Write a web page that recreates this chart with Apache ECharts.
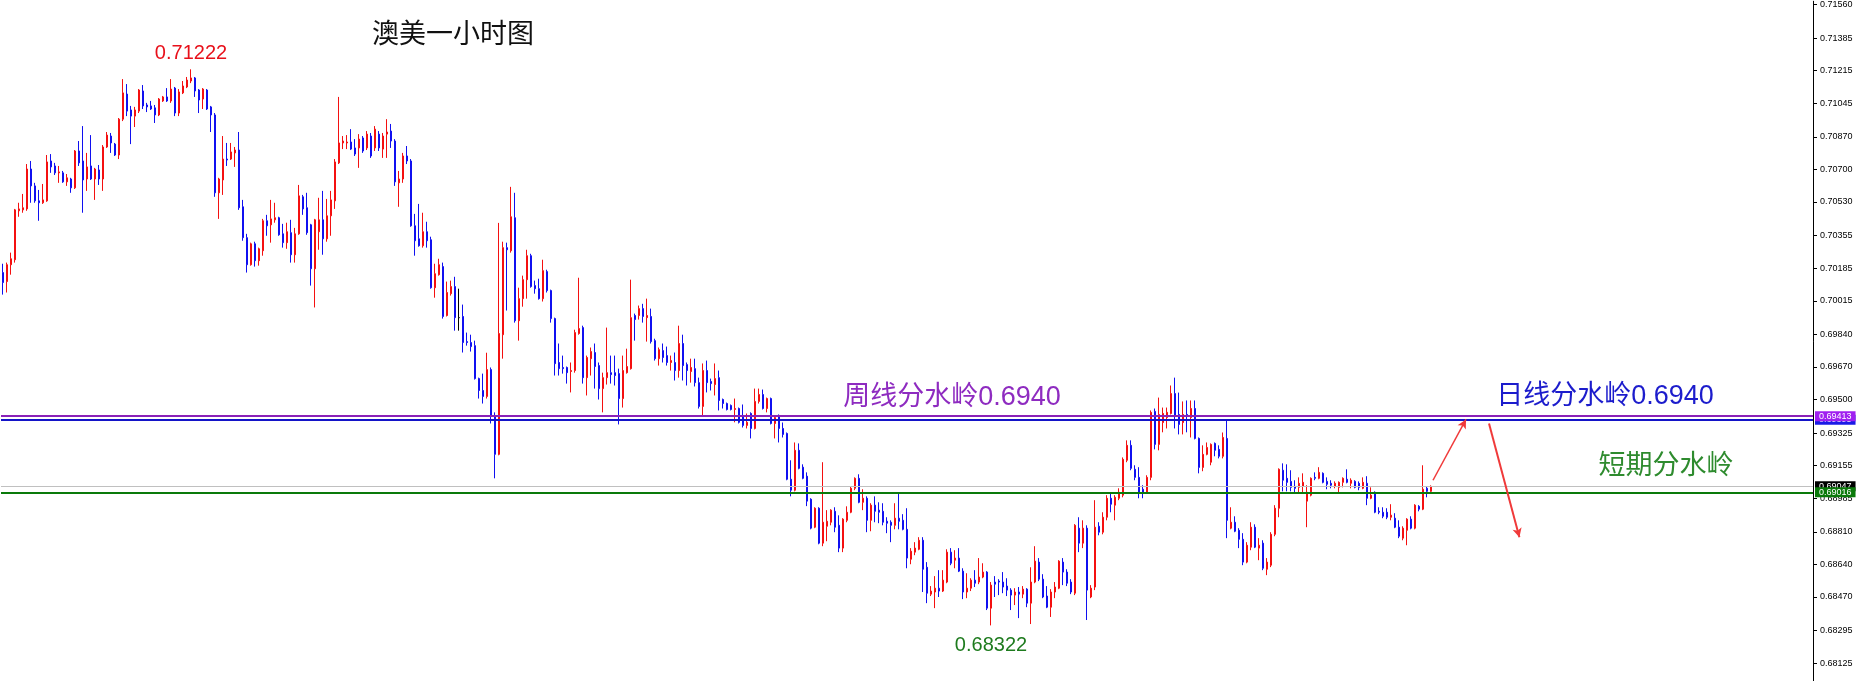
<!DOCTYPE html>
<html><head><meta charset="utf-8">
<script src="https://cdn.jsdelivr.net/npm/echarts@6/dist/echarts.min.js"></script>
<style>html,body{margin:0;padding:0;background:#fff;}#c{width:1861px;height:681px;}</style>
</head><body><div id="c"></div>
<script>
const opens = [
0.70162,0.70115,0.70203,0.70229,0.70484,0.70489,0.70494,0.70702,0.70614,0.70536,
0.70526,0.70536,0.70744,0.70718,0.70682,0.70682,0.70635,0.70650,0.70604,0.70796,
0.70744,0.70650,0.70718,0.70650,0.70697,0.70650,0.70817,0.70874,0.70832,0.70775,
0.70962,0.71093,0.71010,0.70978,0.71004,0.71109,0.71036,0.71031,0.71021,0.70984,
0.71057,0.71078,0.71057,0.71124,0.70994,0.71099,0.71130,0.71161,0.71177,0.71114,
0.71067,0.71114,0.71026,0.70984,0.70578,0.70645,0.70754,0.70754,0.70786,0.70801,
0.70505,0.70344,0.70203,0.70312,0.70224,0.70276,0.70432,0.70411,0.70437,0.70448,
0.70364,0.70318,0.70370,0.70255,0.70364,0.70557,0.70500,0.70411,0.70182,0.70375,
0.70437,0.70338,0.70458,0.70536,0.70734,0.70838,0.70838,0.70843,0.70812,0.70812,
0.70864,0.70812,0.70874,0.70812,0.70884,0.70806,0.70884,0.70900,0.70848,0.70630,
0.70650,0.70770,0.70744,0.70406,0.70338,0.70302,0.70375,0.70333,0.70083,0.70151,
0.70193,0.69938,0.70052,0.70089,0.69927,0.69933,0.69802,0.69797,0.69781,0.69609,
0.69547,0.69516,0.69656,0.69417,0.69214,0.69838,0.70292,0.70276,0.70448,0.69911,
0.70026,0.70125,0.70250,0.70094,0.70078,0.70026,0.70167,0.70068,0.69922,0.69693,
0.69667,0.69667,0.69646,0.69651,0.69844,0.69875,0.69614,0.69713,0.69745,0.69677,
0.69557,0.69614,0.69640,0.69640,0.69635,0.69505,0.69640,0.69661,0.69938,0.69938,
0.69974,0.69927,0.69933,0.69807,0.69713,0.69755,0.69729,0.69693,0.69693,0.69651,
0.69792,0.69682,0.69646,0.69661,0.69588,0.69464,0.69651,0.69594,0.69578,0.69614,
0.69500,0.69479,0.69469,0.69448,0.69453,0.69417,0.69365,0.69427,0.69349,0.69490,
0.69526,0.69453,0.69505,0.69375,0.69417,0.69349,0.69323,0.69084,0.69027,0.69235,
0.69147,0.69100,0.68980,0.68834,0.68933,0.68751,0.68839,0.68860,0.68917,0.68844,
0.68725,0.68870,0.68912,0.69037,0.69089,0.68964,0.68985,0.68870,0.68949,0.68923,
0.68917,0.68865,0.68860,0.68844,0.68881,0.68870,0.68823,0.68667,0.68704,0.68719,
0.68766,0.68625,0.68485,0.68496,0.68516,0.68501,0.68548,0.68704,0.68662,0.68673,
0.68605,0.68496,0.68516,0.68558,0.68548,0.68574,0.68600,0.68412,0.68548,0.68553,
0.68548,0.68527,0.68506,0.68480,0.68496,0.68485,0.68511,0.68438,0.68548,0.68652,
0.68563,0.68475,0.68417,0.68496,0.68516,0.68652,0.68600,0.68548,0.68490,0.68829,
0.68751,0.68829,0.68470,0.68522,0.68839,0.68808,0.68886,0.68985,0.68949,0.68985,
0.69001,0.69183,0.69261,0.69136,0.69094,0.69032,0.69016,0.69094,0.69438,0.69266,
0.69380,0.69406,0.69427,0.69531,0.69422,0.69380,0.69422,0.69406,0.69453,0.69297,
0.69146,0.69214,0.69173,0.69271,0.69240,0.69204,0.69297,0.68829,0.68860,0.68818,
0.68771,0.68652,0.68730,0.68834,0.68725,0.68751,0.68615,0.68636,0.68797,0.68933,
0.69131,0.69089,0.69073,0.69047,0.69042,0.69047,0.68970,0.69001,0.69094,0.69089,
0.69115,0.69073,0.69063,0.69047,0.69042,0.69068,0.69084,0.69063,0.69073,0.69063,
0.69037,0.69063,0.68985,0.69016,0.68917,0.68912,0.68912,0.68886,0.68881,0.68834,
0.68777,0.68818,0.68876,0.68829,0.68943,0.68928,0.69037,0.69021
];
const closes = [
0.70110,0.70203,0.70234,0.70489,0.70494,0.70500,0.70702,0.70614,0.70536,0.70526,
0.70541,0.70739,0.70713,0.70682,0.70687,0.70635,0.70656,0.70604,0.70796,0.70734,
0.70645,0.70713,0.70650,0.70702,0.70650,0.70817,0.70879,0.70838,0.70775,0.70962,
0.71099,0.71004,0.70978,0.71010,0.71114,0.71031,0.71026,0.71015,0.70984,0.71067,
0.71078,0.71057,0.71119,0.70994,0.71104,0.71135,0.71166,0.71177,0.71109,0.71062,
0.71119,0.71015,0.70984,0.70578,0.70650,0.70754,0.70749,0.70791,0.70801,0.70500,
0.70344,0.70203,0.70312,0.70224,0.70286,0.70432,0.70406,0.70442,0.70448,0.70359,
0.70318,0.70375,0.70255,0.70364,0.70562,0.70494,0.70370,0.70182,0.70437,0.70437,
0.70338,0.70458,0.70541,0.70739,0.70838,0.70848,0.70843,0.70806,0.70780,0.70858,
0.70796,0.70884,0.70770,0.70910,0.70812,0.70874,0.70895,0.70848,0.70635,0.70650,
0.70770,0.70744,0.70406,0.70328,0.70302,0.70375,0.70328,0.70083,0.70156,0.70203,
0.69933,0.70058,0.70089,0.69927,0.69927,0.69797,0.69797,0.69776,0.69609,0.69547,
0.69516,0.69656,0.69417,0.69214,0.69844,0.70292,0.70281,0.70453,0.69911,0.70026,
0.70125,0.70250,0.70089,0.70078,0.70026,0.70172,0.70068,0.69922,0.69687,0.69661,
0.69661,0.69640,0.69651,0.69849,0.69870,0.69614,0.69719,0.69750,0.69672,0.69557,
0.69614,0.69640,0.69630,0.69625,0.69505,0.69651,0.69672,0.69927,0.69917,0.69974,
0.69933,0.69938,0.69802,0.69713,0.69760,0.69719,0.69693,0.69703,0.69651,0.69792,
0.69677,0.69651,0.69667,0.69588,0.69464,0.69651,0.69588,0.69583,0.69609,0.69495,
0.69479,0.69448,0.69448,0.69453,0.69381,0.69365,0.69381,0.69349,0.69490,0.69526,
0.69453,0.69505,0.69375,0.69406,0.69349,0.69318,0.69084,0.69027,0.69235,0.69141,
0.69089,0.68970,0.68829,0.68933,0.68751,0.68860,0.68865,0.68923,0.68834,0.68725,
0.68876,0.68912,0.69037,0.69089,0.68964,0.68985,0.68870,0.68949,0.68917,0.68912,
0.68860,0.68855,0.68844,0.68881,0.68865,0.68823,0.68673,0.68709,0.68725,0.68766,
0.68615,0.68490,0.68501,0.68516,0.68501,0.68558,0.68704,0.68646,0.68673,0.68605,
0.68496,0.68516,0.68558,0.68542,0.68574,0.68600,0.68412,0.68532,0.68537,0.68548,
0.68522,0.68506,0.68480,0.68496,0.68485,0.68511,0.68438,0.68548,0.68657,0.68563,
0.68470,0.68417,0.68496,0.68522,0.68657,0.68600,0.68542,0.68496,0.68844,0.68751,
0.68829,0.68506,0.68516,0.68834,0.68808,0.68886,0.68985,0.68954,0.68990,0.69016,
0.69188,0.69261,0.69141,0.69094,0.69016,0.69016,0.69094,0.69433,0.69266,0.69422,
0.69427,0.69433,0.69531,0.69417,0.69370,0.69422,0.69417,0.69453,0.69297,0.69146,
0.69214,0.69250,0.69266,0.69235,0.69204,0.69302,0.68870,0.68860,0.68813,0.68771,
0.68652,0.68740,0.68834,0.68730,0.68740,0.68620,0.68652,0.68797,0.68933,0.69136,
0.69079,0.69068,0.69042,0.69037,0.69063,0.69068,0.69016,0.69089,0.69089,0.69120,
0.69068,0.69058,0.69053,0.69063,0.69068,0.69089,0.69068,0.69079,0.69042,0.69042,
0.69068,0.68985,0.69001,0.68912,0.68912,0.68891,0.68886,0.68897,0.68834,0.68787,
0.68829,0.68876,0.68829,0.68949,0.68928,0.69032,0.69021,0.69047
];
const lows = [
0.70047,0.70058,0.70151,0.70214,0.70453,0.70474,0.70484,0.70526,0.70526,0.70432,
0.70520,0.70531,0.70682,0.70671,0.70630,0.70630,0.70614,0.70578,0.70598,0.70718,
0.70474,0.70588,0.70645,0.70541,0.70619,0.70588,0.70812,0.70786,0.70770,0.70754,
0.70952,0.70978,0.70832,0.70921,0.70994,0.71015,0.70999,0.71010,0.70942,0.70978,
0.71052,0.71052,0.71047,0.70978,0.70978,0.71093,0.71124,0.71150,0.71078,0.70994,
0.71015,0.71010,0.70895,0.70557,0.70442,0.70567,0.70718,0.70749,0.70713,0.70489,
0.70328,0.70162,0.70198,0.70193,0.70198,0.70250,0.70354,0.70318,0.70422,0.70354,
0.70292,0.70286,0.70214,0.70214,0.70359,0.70463,0.70359,0.70094,0.69980,0.70281,
0.70255,0.70323,0.70354,0.70494,0.70728,0.70806,0.70806,0.70801,0.70770,0.70708,
0.70786,0.70801,0.70760,0.70796,0.70796,0.70760,0.70760,0.70812,0.70614,0.70505,
0.70630,0.70728,0.70401,0.70250,0.70297,0.70292,0.70292,0.70078,0.70031,0.70146,
0.69922,0.69933,0.70042,0.69859,0.69859,0.69745,0.69781,0.69750,0.69604,0.69505,
0.69479,0.69505,0.69375,0.69089,0.69209,0.69713,0.69964,0.70266,0.69901,0.69807,
0.69984,0.70026,0.70083,0.70052,0.70021,0.70011,0.70058,0.69901,0.69625,0.69625,
0.69635,0.69583,0.69537,0.69640,0.69838,0.69583,0.69521,0.69625,0.69557,0.69500,
0.69433,0.69578,0.69583,0.69573,0.69370,0.69458,0.69635,0.69656,0.69807,0.69917,
0.69901,0.69802,0.69792,0.69703,0.69677,0.69693,0.69677,0.69651,0.69599,0.69614,
0.69599,0.69573,0.69588,0.69568,0.69453,0.69412,0.69537,0.69547,0.69521,0.69443,
0.69453,0.69443,0.69443,0.69381,0.69375,0.69354,0.69349,0.69297,0.69344,0.69479,
0.69448,0.69433,0.69370,0.69297,0.69276,0.69302,0.69079,0.68995,0.69021,0.69136,
0.69084,0.68944,0.68823,0.68829,0.68745,0.68735,0.68761,0.68844,0.68808,0.68704,
0.68704,0.68860,0.68907,0.69027,0.68959,0.68923,0.68808,0.68813,0.68860,0.68855,
0.68844,0.68803,0.68756,0.68823,0.68823,0.68818,0.68620,0.68641,0.68688,0.68714,
0.68496,0.68438,0.68475,0.68412,0.68470,0.68496,0.68542,0.68636,0.68620,0.68600,
0.68459,0.68464,0.68501,0.68522,0.68537,0.68568,0.68402,0.68322,0.68470,0.68480,
0.68490,0.68475,0.68402,0.68428,0.68360,0.68464,0.68417,0.68329,0.68542,0.68553,
0.68464,0.68412,0.68366,0.68464,0.68511,0.68532,0.68527,0.68485,0.68480,0.68704,
0.68725,0.68350,0.68464,0.68506,0.68792,0.68797,0.68870,0.68912,0.68870,0.68975,
0.68990,0.69173,0.69131,0.69079,0.68985,0.68985,0.69011,0.69079,0.69240,0.69235,
0.69329,0.69349,0.69422,0.69349,0.69318,0.69318,0.69329,0.69302,0.69292,0.69115,
0.69126,0.69209,0.69157,0.69204,0.69193,0.69193,0.68777,0.68823,0.68808,0.68725,
0.68636,0.68646,0.68714,0.68725,0.68662,0.68610,0.68584,0.68626,0.68787,0.68886,
0.69021,0.69021,0.69021,0.69016,0.69016,0.69016,0.68834,0.68995,0.69079,0.69084,
0.69063,0.69032,0.69037,0.69037,0.69016,0.69042,0.69063,0.69037,0.69037,0.69027,
0.69032,0.68949,0.68980,0.68907,0.68902,0.68881,0.68876,0.68870,0.68829,0.68777,
0.68766,0.68740,0.68823,0.68823,0.68917,0.68923,0.68990,0.69016
];
const highs = [
0.70208,0.70214,0.70266,0.70494,0.70526,0.70572,0.70728,0.70744,0.70630,0.70593,
0.70624,0.70775,0.70780,0.70734,0.70718,0.70692,0.70676,0.70656,0.70801,0.70848,
0.70926,0.70786,0.70879,0.70708,0.70723,0.70827,0.70895,0.70890,0.70838,0.70968,
0.71171,0.71145,0.71031,0.71026,0.71119,0.71140,0.71047,0.71057,0.71036,0.71072,
0.71083,0.71124,0.71171,0.71130,0.71119,0.71161,0.71182,0.71222,0.71182,0.71119,
0.71124,0.71119,0.71031,0.70994,0.70656,0.70874,0.70838,0.70838,0.70817,0.70895,
0.70541,0.70364,0.70318,0.70323,0.70292,0.70442,0.70463,0.70541,0.70526,0.70453,
0.70416,0.70422,0.70437,0.70395,0.70619,0.70567,0.70578,0.70416,0.70442,0.70552,
0.70588,0.70546,0.70588,0.70754,0.71078,0.70874,0.70879,0.70910,0.70858,0.70884,
0.70874,0.70900,0.70890,0.70926,0.70900,0.70890,0.70962,0.70937,0.70858,0.70692,
0.70786,0.70822,0.70754,0.70468,0.70520,0.70474,0.70427,0.70349,0.70208,0.70234,
0.70214,0.70115,0.70120,0.70140,0.70078,0.69995,0.69849,0.69838,0.69807,0.69614,
0.69635,0.69744,0.69667,0.69433,0.70421,0.70323,0.70318,0.70609,0.70578,0.70083,
0.70146,0.70281,0.70260,0.70120,0.70130,0.70229,0.70177,0.70073,0.69927,0.69792,
0.69729,0.69672,0.69693,0.69864,0.70135,0.69885,0.69729,0.69771,0.69792,0.69693,
0.69640,0.69875,0.69729,0.69729,0.69661,0.69729,0.69765,0.70125,0.69948,0.69990,
0.69999,0.70026,0.69974,0.69817,0.69771,0.69792,0.69776,0.69729,0.69745,0.69885,
0.69838,0.69693,0.69713,0.69713,0.69614,0.69688,0.69703,0.69609,0.69688,0.69651,
0.69505,0.69484,0.69474,0.69505,0.69458,0.69474,0.69427,0.69433,0.69557,0.69557,
0.69552,0.69510,0.69510,0.69417,0.69422,0.69380,0.69328,0.69183,0.69276,0.69271,
0.69162,0.69120,0.68985,0.68938,0.68938,0.69173,0.68923,0.68928,0.68938,0.68896,
0.68881,0.68943,0.69047,0.69094,0.69110,0.69032,0.68995,0.68959,0.68995,0.68964,
0.68959,0.68886,0.68870,0.68959,0.69011,0.68902,0.68933,0.68725,0.68756,0.68782,
0.68782,0.68652,0.68527,0.68579,0.68610,0.68610,0.68719,0.68725,0.68714,0.68725,
0.68620,0.68594,0.68568,0.68610,0.68673,0.68646,0.68605,0.68548,0.68579,0.68563,
0.68600,0.68568,0.68516,0.68516,0.68522,0.68527,0.68516,0.68625,0.68735,0.68673,
0.68589,0.68527,0.68511,0.68548,0.68662,0.68673,0.68615,0.68563,0.68850,0.68886,
0.68870,0.68844,0.68532,0.68975,0.68860,0.68912,0.69001,0.69016,0.69001,0.69037,
0.69198,0.69287,0.69287,0.69157,0.69147,0.69053,0.69105,0.69443,0.69453,0.69510,
0.69458,0.69458,0.69573,0.69614,0.69536,0.69490,0.69495,0.69495,0.69495,0.69302,
0.69261,0.69276,0.69271,0.69276,0.69261,0.69328,0.69391,0.68938,0.68891,0.68829,
0.68803,0.68756,0.68860,0.68849,0.68777,0.68766,0.68673,0.68808,0.68949,0.69141,
0.69167,0.69162,0.69131,0.69079,0.69094,0.69115,0.69053,0.69094,0.69120,0.69147,
0.69120,0.69094,0.69079,0.69073,0.69073,0.69094,0.69136,0.69089,0.69079,0.69073,
0.69094,0.69100,0.69042,0.69021,0.68938,0.68938,0.68933,0.68954,0.68907,0.68870,
0.68839,0.68881,0.68891,0.68954,0.68949,0.69157,0.69047,0.69052
];
// y-axis tick labels as printed on the right-hand price scale
const tickValues = [0.71560,0.71385,0.71215,0.71045,0.70870,0.70700,0.70530,0.70355,0.70185,0.70015,0.69840,0.69670,0.69500,0.69325,0.69155,0.68985,0.68810,0.68640,0.68470,0.68295,0.68125];
// horizontal levels with price tags
const levelValues = [0.69395, 0.69413, 0.69047, 0.69016];
const levelColors = ['#1414c8', '#8a22b8', '#c0c0c0', '#0a7a0a'];
const levelTagColors = ['#1a1ae6', '#a020f0', '#000000', '#0a7a0a'];
const levelWidths = [2, 2, 1, 2];
// text annotations [slot index, price]
const noteTexts = ['0.71222', '0.68322', '周线分水岭0.6940', '日线分水岭0.6940', '短期分水岭'];
const noteX = [47, 247, 237.25, 400.5, 415.75];
const noteY = [0.71306, 0.68215, 0.69511, 0.69516, 0.69152];
const noteColors = ['#e8101a', '#1e7b1e', '#8e2bc0', '#1c1ccc', '#2e8b2e'];
const noteSizes = [20, 20, 27, 27, 27];
// drawn arrows [x1, y1, x2, y2] in slot index / price
const arrowsFrom = [[357.5, 0.69079], [371.5, 0.69375]];
const arrowsTo = [[365.75, 0.69396], [379.1, 0.68782]];
const arrowWidths = [1.5, 2];

const slotCount = 453;
const categories = Array.from({length: slotCount}, (_, i) => String(i));
const candleData = opens.map((o, i) => [o, closes[i], lows[i], highs[i]]);

const chart = echarts.init(document.getElementById('c'), null, {renderer: 'canvas'});
chart.setOption({
  animation: false,
  backgroundColor: '#ffffff',
  title: {
    text: '澳美一小时图', left: 372, top: 19, padding: 0,
    textStyle: {fontSize: 27, fontWeight: 'normal', color: '#111', fontFamily: 'Noto Sans CJK SC'}
  },
  grid: {left: 1, right: 48, top: 0, bottom: 0, containLabel: false},
  xAxis: [
    {type: 'category', data: categories, boundaryGap: true, show: false},
    {type: 'value', min: -0.5, max: slotCount - 0.5, show: false}
  ],
  yAxis: {
    type: 'value', position: 'right', min: 0.68032, max: 0.71577, scale: true,
    splitLine: {show: false},
    axisLine: {show: true, onZero: false, lineStyle: {color: '#000', width: 1}},
    axisTick: {show: true, inside: false, length: 4, customValues: tickValues, lineStyle: {color: '#000'}},
    axisLabel: {customValues: tickValues, formatter: v => v.toFixed(5), color: '#000', fontSize: 9, fontFamily: 'Liberation Sans', margin: 7}
  },
  series: [
    {
      type: 'candlestick', data: candleData, barWidth: 2, z: 3,
      itemStyle: {color: '#f41010', color0: '#1010f0', borderColor: '#f41010', borderColor0: '#1010f0', borderWidth: 1, borderColorDoji: '#000'}
    },
    {
      type: 'line', xAxisIndex: 1, data: [], silent: true, z: 2,
      markLine: {
        silent: true, symbol: ['none', 'none'],
        data: levelValues.map((v, i) => [
          {coord: [-0.5, v],
           lineStyle: {color: levelColors[i], width: levelWidths[i], type: 'solid'},
           label: {show: true, position: 'end', distance: 2, formatter: v.toFixed(5),
             color: '#fff', backgroundColor: levelTagColors[i], padding: [1, 4, 0, 4],
             fontSize: 9, fontFamily: 'Liberation Sans'}},
          {coord: [slotCount - 0.5, v]}
        ])
      }
    },
    {
      type: 'scatter', xAxisIndex: 1, data: [], silent: true, z: 4,
      markPoint: {
        symbol: 'circle', symbolSize: 1, itemStyle: {color: 'rgba(0,0,0,0)'},
        data: noteTexts.map((t, i) => ({
          coord: [noteX[i], noteY[i]], name: t,
          label: {show: true, position: 'inside', formatter: t, color: noteColors[i], fontSize: noteSizes[i],
            fontFamily: 'Liberation Sans, Noto Sans CJK SC'}
        }))
      },
      markLine: {
        silent: true, symbol: ['none', 'arrow'], symbolSize: [7, 9],
        label: {show: false},
        data: arrowsFrom.map((a, i) => [
          {coord: a, lineStyle: {color: '#f03a3a', width: arrowWidths[i], type: 'solid'}},
          {coord: arrowsTo[i]}
        ])
      }
    }
  ]
});
</script>
</body></html>
